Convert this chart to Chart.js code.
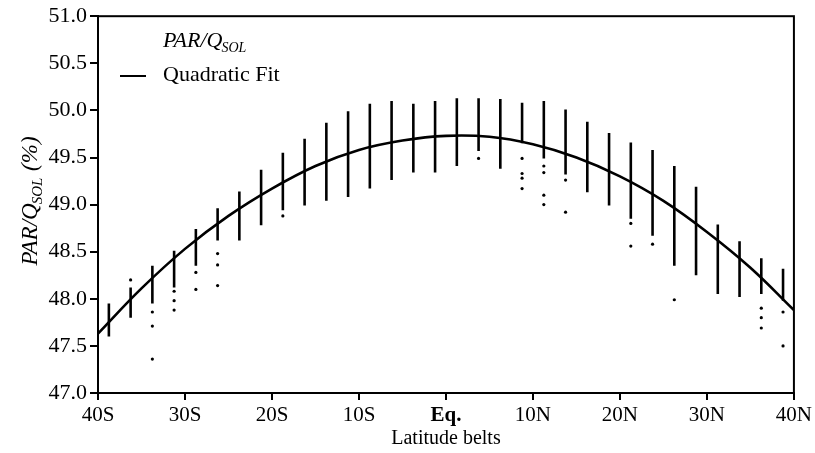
<!DOCTYPE html>
<html>
<head>
<meta charset="utf-8">
<script src="https://cdn.jsdelivr.net/npm/chart.js@4.4.1/dist/chart.umd.min.js"></script>
<style>
  html, body { margin: 0; padding: 0; background: #fff; }
  canvas { display: block; }
</style>
</head>
<body>
<canvas id="chart" width="815" height="453"></canvas>
<script>
// Latitude belt centres (degrees, S negative)
const beltLats = [-38.75, -36.25, -33.75, -31.25, -28.75, -26.25, -23.75, -21.25,
                  -18.75, -16.25, -13.75, -11.25, -8.75, -6.25, -3.75, -1.25,
                  1.25, 3.75, 6.25, 8.75, 11.25, 13.75, 16.25, 18.75,
                  21.25, 23.75, 26.25, 28.75, 31.25, 33.75, 36.25, 38.75];
// Upper and lower end of the dense cloud of each belt (%)
const beltTop = [47.95, 48.12, 48.35, 48.51, 48.74, 48.96, 49.14, 49.37,
                 49.55, 49.70, 49.87, 49.99, 50.07, 50.10, 50.07, 50.10,
                 50.13, 50.13, 50.12, 50.08, 50.10, 50.01, 49.88, 49.76,
                 49.66, 49.58, 49.41, 49.19, 48.79, 48.61, 48.43, 48.32];
const beltBottom = [47.60, 47.80, 47.95, 48.12, 48.35, 48.62, 48.62, 48.78,
                    48.94, 48.99, 49.04, 49.08, 49.17, 49.26, 49.34, 49.34,
                    49.41, 49.57, 49.38, 49.65, 49.49, 49.32, 49.13, 48.99,
                    48.85, 48.67, 48.35, 48.25, 48.05, 48.02, 48.05, 47.98];
// Isolated points below / above the clouds
const outlierLat = [-36.25, -33.75, -33.75, -33.75, -31.25, -31.25, -31.25,
                    -28.75, -28.75, -26.25, -26.25, -26.25, -18.75, 3.75,
                    8.75, 8.75, 8.75, 8.75, 11.25, 11.25, 11.25, 11.25,
                    13.75, 13.75, 21.25, 21.25, 23.75, 26.25,
                    36.25, 36.25, 36.25, 38.75, 38.75];
const outlierVal = [48.20, 47.86, 47.71, 47.36, 48.08, 47.98, 47.88,
                    48.28, 48.10, 48.48, 48.36, 48.14, 48.88, 49.49,
                    49.49, 49.33, 49.28, 49.17, 49.41, 49.34, 49.10, 49.00,
                    49.26, 48.92, 48.80, 48.56, 48.58, 47.99,
                    47.90, 47.80, 47.69, 47.86, 47.50];
// Quadratic fit every 5 degrees
const fitLat = [-40, -35, -30, -25, -20, -15, -10, -5, 0, 5, 10, 15, 20, 25, 30, 35, 40];
const fitVal = [47.63, 48.11, 48.53, 48.88, 49.17, 49.41, 49.58, 49.68, 49.73,
                49.72, 49.64, 49.50, 49.30, 49.04, 48.71, 48.33, 47.88];
const xTickLabels = ['40S', '30S', '20S', '10S', 'Eq.', '10N', '20N', '30N', '40N'];

const SERIF = "'Liberation Serif', 'Times New Roman', serif";

// vertical segments, broken by nulls
const beltSegments = [];
beltLats.forEach((lat, i) => {
    beltSegments.push({ x: lat, y: beltTop[i] });
    beltSegments.push({ x: lat, y: beltBottom[i] });
    beltSegments.push({ x: lat, y: null });
});
const outlierPoints = outlierLat.map((lat, i) => ({ x: lat, y: outlierVal[i] }));
const fitPoints = fitLat.map((lat, i) => ({ x: lat, y: fitVal[i] }));

// box, legend and axis titles (with subscripts)
const decorations = {
    id: 'decorations',
    afterDraw(chart) {
        const ctx = chart.ctx;
        const a = chart.chartArea;
        ctx.save();
        ctx.strokeStyle = '#000';
        ctx.lineWidth = 2;
        ctx.strokeRect(a.left, a.top, a.right - a.left, a.bottom - a.top);

        ctx.fillStyle = '#000';
        ctx.textBaseline = 'alphabetic';
        ctx.textAlign = 'left';

        // legend
        ctx.font = 'italic 22px ' + SERIF;
        ctx.fillText('PAR/Q', 163, 47);
        let w = ctx.measureText('PAR/Q').width;
        ctx.font = 'italic 14px ' + SERIF;
        ctx.fillText('SOL', 163 + w - 1, 52);

        ctx.font = '22px ' + SERIF;
        ctx.fillText('Quadratic Fit', 163, 81);
        ctx.beginPath();
        ctx.lineWidth = 2;
        ctx.moveTo(120, 76);
        ctx.lineTo(146, 76);
        ctx.stroke();

        // x title
        ctx.font = '20px ' + SERIF;
        ctx.textAlign = 'center';
        ctx.fillText('Latitude belts', (a.left + a.right) / 2, 444);

        // y title, rotated
        ctx.textAlign = 'left';
        ctx.font = 'italic 23px ' + SERIF;
        const w1 = ctx.measureText('PAR/Q').width;
        ctx.font = 'italic 15px ' + SERIF;
        const w2 = ctx.measureText('SOL').width;
        ctx.font = 'italic 23px ' + SERIF;
        const w3 = ctx.measureText(' (%)').width;
        const total = w1 + w2 + w3;
        ctx.translate(37, 201 + total / 2);
        ctx.rotate(-Math.PI / 2);
        ctx.fillText('PAR/Q', 0, 0);
        ctx.font = 'italic 15px ' + SERIF;
        ctx.fillText('SOL', w1 - 1, 5);
        ctx.font = 'italic 23px ' + SERIF;
        ctx.fillText(' (%)', w1 + w2, 0);
        ctx.restore();
    }
};

new Chart(document.getElementById('chart'), {
    type: 'scatter',
    data: {
        datasets: [
            {
                label: 'PAR/QSOL',
                data: beltSegments,
                showLine: true,
                spanGaps: false,
                borderColor: '#000',
                borderWidth: 2.6,
                borderCapStyle: 'butt',
                pointRadius: 0
            },
            {
                label: 'PAR/QSOL outliers',
                data: outlierPoints,
                backgroundColor: '#000',
                borderWidth: 0,
                pointRadius: 1.6
            },
            {
                label: 'Quadratic Fit',
                data: fitPoints,
                showLine: true,
                borderColor: '#000',
                borderWidth: 2.6,
                tension: 0.4,
                pointRadius: 0
            }
        ]
    },
    options: {
        responsive: false,
        animation: false,
        events: [],
        layout: { padding: { left: 0, top: 15, right: 20, bottom: 0 } },
        plugins: {
            legend: { display: false },
            tooltip: { enabled: false }
        },
        scales: {
            x: {
                type: 'linear',
                min: -40,
                max: 40,
                afterFit: s => { s.height = 60; },
                border: { color: '#000', width: 2 },
                grid: { drawOnChartArea: false, drawTicks: true, tickLength: 7, color: '#000', lineWidth: 2 },
                ticks: {
                    stepSize: 10,
                    color: '#000',
                    padding: 3,
                    maxRotation: 0,
                    font: ctx => ({
                        family: SERIF,
                        size: 21,
                        weight: ctx.tick && ctx.tick.value === 0 ? 'bold' : 'normal'
                    }),
                    callback: v => xTickLabels[Math.round((v + 40) / 10)]
                }
            },
            y: {
                min: 47,
                max: 51,
                afterFit: s => { s.width = 98; },
                border: { color: '#000', width: 2 },
                grid: { drawOnChartArea: false, drawTicks: true, tickLength: 8, color: '#000', lineWidth: 2 },
                ticks: {
                    stepSize: 0.5,
                    color: '#000',
                    padding: 3,
                    font: { family: SERIF, size: 22 },
                    callback: v => v.toFixed(1)
                }
            }
        }
    },
    plugins: [decorations]
});
</script>
</body>
</html>
